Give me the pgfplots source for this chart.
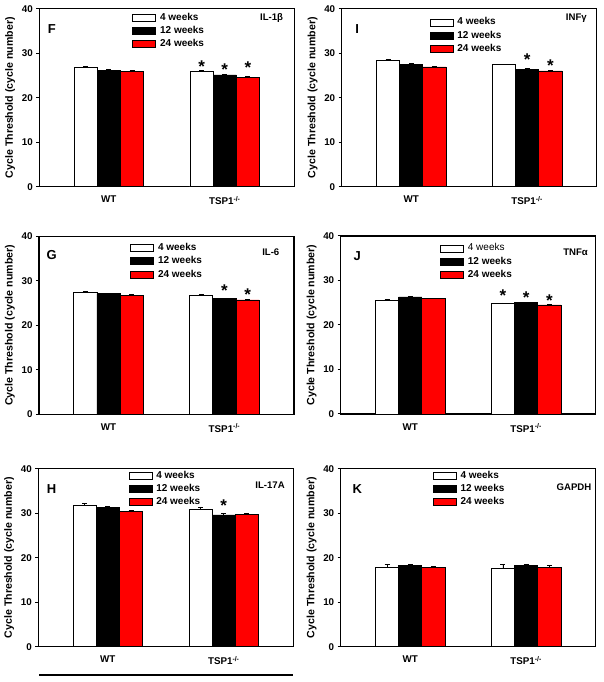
\documentclass[border=0pt]{standalone}
\usepackage{pgfplots}
\pgfplotsset{compat=1.18}
\usepackage{fontspec}
\setmainfont{Liberation Sans}

\definecolor{barred}{RGB}{255,0,0}

\pgfplotsset{
  panel/.style={
    scale only axis, width=255pt, height=178pt, anchor=south west,
    xmin=0.4, xmax=2.6, ymin=0, ymax=40,
    xtick={1,2}, xticklabels={WT, TSP1\textsuperscript{-/-}},
    xtick style={draw=none},
    xticklabel style={yshift=-3pt},
    ytick={0,10,20,30,40}, ytick pos=left, tick align=outside,
    major tick length=3pt,
    axis line style={line width=1.1pt},
    every tick/.style={black, line width=1pt},
    ylabel={Cycle Threshold (cycle number)},
    ylabel style={at={(axis description cs:-0.114,0.5)}, anchor=center,
      font=\bfseries\fontsize{10.6}{10.6}\selectfont},
    tick label style={font=\bfseries\fontsize{9.8}{9.8}\selectfont},
    /pgf/number format/assume math mode=true,
    legend cell align=left,
    legend image code/.code={\draw[##1, line width=0.8pt] (0pt,-3.5pt) rectangle (23pt,3.5pt);
      \path (26pt,0pt);},
    legend style={anchor=north west, draw=none, fill=none, inner sep=0pt,
      font=\bfseries\fontsize{10}{10}\selectfont,
      nodes={inner sep=1pt, text height=7pt, text depth=2pt},
      row sep=2.3pt},
  },
  bars/.style={ybar, bar width=0.2, bar shift=0pt, draw=black,
    line width=0.8pt, fill=#1,
    error bars/.cd, y dir=plus, y explicit,
    error bar style={black, line width=0.8pt},
    error mark options={black, line width=0.8pt, mark size=2.5pt, rotate=90}},
}
\tikzset{
  star/.style={font=\bfseries\fontsize{17}{17}\selectfont, yshift=-3.6pt},
  letter/.style={font=\bfseries\fontsize{13}{13}\selectfont},
  gene/.style={font=\bfseries\fontsize{9.6}{9.6}\selectfont},
}

\begin{document}
\begin{tikzpicture}
\useasboundingbox (0pt,0pt) rectangle (603pt,682pt);

% F: IL-1beta
\begin{axis}[panel, at={(39.3pt,495.3pt)}, legend style={at={(0.364,0.982)}}]
\addplot[bars=white] coordinates {(0.8,26.8) +- (0,0.25) (1.8,25.8) +- (0,0.25)};
\addplot[bars=black] coordinates {(1.0,26.2) +- (0,0.15) (2.0,25.1) +- (0,0.1)};
\addplot[bars=barred] coordinates {(1.2,25.9) +- (0,0.2) (2.2,24.6) +- (0,0.1)};
\legend{4 weeks, 12 weeks, 24 weeks}
\node[letter] at (rel axis cs:0.049,0.883) {F};
\node[gene] at (rel axis cs:0.911,0.949) {IL-1β};
\node[star] at (axis cs:1.8,27.8) {*};
\node[star] at (axis cs:2.0,27.1) {*};
\node[star] at (axis cs:2.2,27.6) {*};
\end{axis}

% I: INFgamma
\begin{axis}[panel, at={(341.7pt,495.3pt)}, legend style={at={(0.344,0.955)}}]
\addplot[bars=white] coordinates {(0.8,28.4) +- (0,0.2) (1.8,27.4) +- (0,0.15)};
\addplot[bars=black] coordinates {(1.0,27.5) +- (0,0.15) (2.0,26.4) +- (0,0.1)};
\addplot[bars=barred] coordinates {(1.2,26.9) +- (0,0.15) (2.2,26.0) +- (0,0.1)};
\legend{4 weeks, 12 weeks, 24 weeks}
\node[letter] at (rel axis cs:0.061,0.883) {I};
\node[gene] at (rel axis cs:0.92,0.944) {INFγ};
\node[star] at (axis cs:2.0,29.3) {*};
\node[star] at (axis cs:2.2,28.0) {*};
\end{axis}

% G: IL-6
\begin{axis}[panel, at={(39pt,267.7pt)}, legend style={at={(0.357,0.966)}}]
\addplot[bars=white] coordinates {(0.8,27.4) +- (0,0.3) (1.8,26.7) +- (0,0.3)};
\addplot[bars=black] coordinates {(1.0,27.1) +- (0,0.15) (2.0,26.0) +- (0,0.1)};
\addplot[bars=barred] coordinates {(1.2,26.7) +- (0,0.15) (2.2,25.7) +- (0,0.1)};
\legend{4 weeks, 12 weeks, 24 weeks}
\node[letter] at (rel axis cs:0.05,0.893) {G};
\node[gene] at (rel axis cs:0.909,0.912) {IL-6};
\node[star] at (axis cs:2.0,28.5) {*};
\node[star] at (axis cs:2.2,27.8) {*};
\end{axis}

% J: TNFalpha
\begin{axis}[panel, at={(340.7pt,268pt)}, legend style={at={(0.389,0.962)}}]
\addplot[bars=white] coordinates {(0.8,25.6) +- (0,0.15) (1.8,24.8) +- (0,0.15)};
\addplot[bars=black] coordinates {(1.0,26.3) +- (0,0.1) (2.0,25.0) +- (0,0.1)};
\addplot[bars=barred] coordinates {(1.2,25.9) +- (0,0.1) (2.2,24.5) +- (0,0.1)};
\legend{\mdseries 4 weeks, 12 weeks, 24 weeks}
\node[letter] at (rel axis cs:0.065,0.889) {J};
\node[gene] at (rel axis cs:0.921,0.908) {TNFα};
\node[star] at (axis cs:1.8,27.5) {*};
\node[star] at (axis cs:2.0,26.9) {*};
\node[star] at (axis cs:2.2,26.2) {*};
\end{axis}

% H: IL-17A
\begin{axis}[panel, at={(38.3pt,35.3pt)}, legend style={at={(0.353,0.993)}}]
\addplot[bars=white] coordinates {(0.8,31.7) +- (0,0.45) (1.8,30.8) +- (0,0.6)};
\addplot[bars=black] coordinates {(1.0,31.2) +- (0,0.3) (2.0,29.6) +- (0,0.3)};
\addplot[bars=barred] coordinates {(1.2,30.4) +- (0,0.25) (2.2,29.7) +- (0,0.2)};
\legend{4 weeks, 12 weeks, 24 weeks}
\node[letter] at (rel axis cs:0.052,0.888) {H};
\node[gene] at (rel axis cs:0.909,0.906) {IL-17A};
\node[star] at (axis cs:2.0,32.5) {*};
\end{axis}

% K: GAPDH
\begin{axis}[panel, at={(340.7pt,35.3pt)}, legend style={at={(0.36,0.993)}}]
\addplot[bars=white] coordinates {(0.8,17.9) +- (0,0.55) (1.8,17.7) +- (0,0.8)};
\addplot[bars=black] coordinates {(1.0,18.2) +- (0,0.3) (2.0,18.2) +- (0,0.35)};
\addplot[bars=barred] coordinates {(1.2,17.8) +- (0,0.3) (2.2,17.9) +- (0,0.3)};
\legend{4 weeks, 12 weeks, 24 weeks}
\node[letter] at (rel axis cs:0.065,0.888) {K};
\node[gene] at (rel axis cs:0.915,0.897) {GAPDH};
\end{axis}

\draw[line width=1.3pt] (39pt,7pt) -- (293pt,7pt);
\end{tikzpicture}
\end{document}
